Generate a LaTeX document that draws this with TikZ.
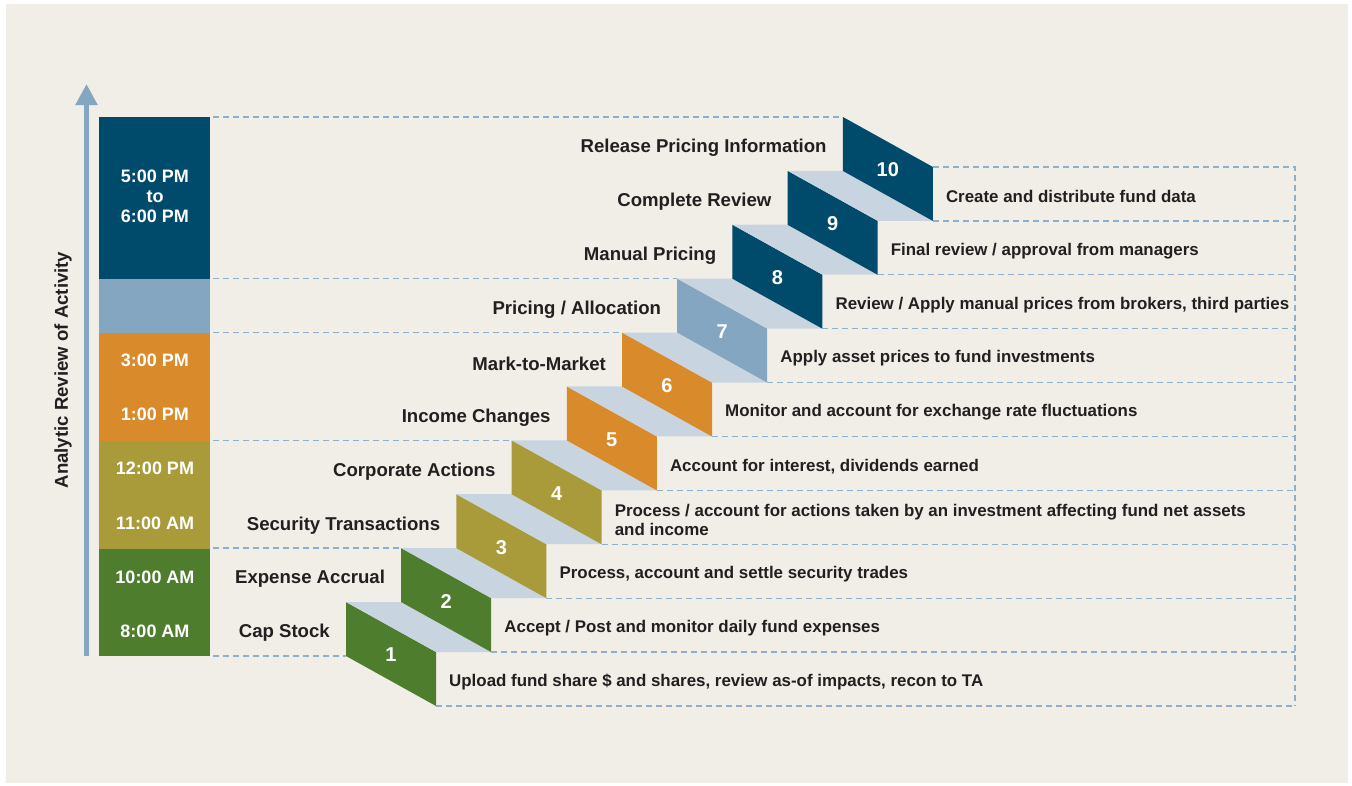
\documentclass[tikz,border=0pt]{standalone}
\usepackage{fontspec}
\setmainfont{Liberation Sans}
\usetikzlibrary{arrows.meta}
\definecolor{bgpanel}{HTML}{F1EEE8}
\definecolor{navy}{HTML}{004B6B}
\definecolor{steel}{HTML}{85A6C0}
\definecolor{amber}{HTML}{D98B2B}
\definecolor{moss}{HTML}{A99B3A}
\definecolor{leaf}{HTML}{4E7D2E}
\definecolor{tread}{HTML}{C8D5E1}
\definecolor{guide}{HTML}{8DB0CC}
\definecolor{ink}{HTML}{231F20}

\begin{document}
\begin{tikzpicture}[x=1pt,y=-1pt,
  lbl/.style={font=\bfseries\fontsize{18.6}{20}\selectfont,text=ink,anchor=east,inner sep=0pt},
  desc/.style={font=\bfseries\fontsize{16.9}{19}\selectfont,text=ink,anchor=west,align=left,inner sep=0pt},
  hour/.style={font=\bfseries\fontsize{18}{20}\selectfont,text=white,align=center,inner sep=0pt},
  num/.style={font=\bfseries\fontsize{20}{22}\selectfont,text=white,inner sep=0pt},
  guideline/.style={guide,line width=1.3pt,dash pattern=on 6pt off 4pt}]

\useasboundingbox (0,0) rectangle (1352,785);
\fill[white] (0,0) rectangle (1352,785);
\fill[bgpanel] (6,4) rectangle (1348,783);

% time column
\fill[navy] (99,117) rectangle (210,279);
\fill[steel] (99,279) rectangle (210,333);
\fill[amber] (99,333) rectangle (210,441);
\fill[moss] (99,441) rectangle (210,549);
\fill[leaf] (99,549) rectangle (210,656);
\node[hour] (h10) at (155,196) {5:00 PM\\to\\6:00 PM};
\node[hour] (h6) at (155,360) {3:00 PM};
\node[hour] (h5) at (155,414) {1:00 PM};
\node[hour] (h4) at (155,468) {12:00 PM};
\node[hour] (h3) at (155,523) {11:00 AM};
\node[hour] (h2) at (155,577) {10:00 AM};
\node[hour] (h1) at (155,631) {8:00 AM};

\coordinate (axisfoot) at (86.5,656);
\coordinate (axistop) at (86.5,84);
\draw[steel,line width=5pt,-{Triangle[width=21pt,length=21pt]}] (axisfoot) -- (axistop);
\node[lbl,anchor=center,rotate=90] (axislabel) at (63,370) {Analytic Review of Activity};

% stairs
\foreach \k/\col/\name/\text in {
  1/leaf/{Cap Stock}/{Upload fund share \$ and shares, review as-of impacts, recon to TA},
  2/leaf/{Expense Accrual}/{Accept / Post and monitor daily fund expenses},
  3/moss/{Security Transactions}/{Process, account and settle security trades},
  4/moss/{Corporate Actions}/{Process / account for actions taken by an investment affecting fund net assets\\and income},
  5/amber/{Income Changes}/{Account for interest, dividends earned},
  6/amber/{Mark-to-Market}/{Monitor and account for exchange rate fluctuations},
  7/steel/{Pricing / Allocation}/{Apply asset prices to fund investments},
  8/navy/{Manual Pricing}/{Review / Apply manual prices from brokers, third parties},
  9/navy/{Complete Review}/{Final review / approval from managers},
  10/navy/{Release Pricing Information}/{Create and distribute fund data}}{
  \pgfmathsetmacro\L{346+(\k-1)*55.2}
  \pgfmathsetmacro\T{602-(\k-1)*53.9}
  \coordinate (s\k) at (\L,\T);
  \coordinate (b\k) at (\L+90,\T+104);
  \fill[\col] (s\k) -- ++(90,50) -- ++(0,54) -- ++(-90,-50) -- cycle;
  \ifnum\k<10 \fill[tread] (s\k) -- ++(55.2,0) -- ++(90,50) -- ++(-55.2,0) -- cycle; \fi
  \node[num] (n\k) at (\L+45,\T+53) {\k};
  \node[lbl] (l\k) at (\L-16,\T+31) {\name};
  \node[desc] (d\k) at (\L+103,\T+80) {\text};
  \draw[guideline] (b\k) -- (1295,\T+104);
}

\coordinate (barR) at (213,0);
\coordinate (f1) at (346,656);
\coordinate (t10) at (932.8,167);
\coordinate (rt) at (1295,167);
\coordinate (rb) at (1295,706);
\foreach \k in {10,7,6,4,2}
  \draw[guideline] (s\k -| barR) -- (s\k);
\draw[guideline] (f1 -| barR) -- (f1);
\draw[guideline] (t10) -- (rt) -- (rb);
\end{tikzpicture}
\end{document}
